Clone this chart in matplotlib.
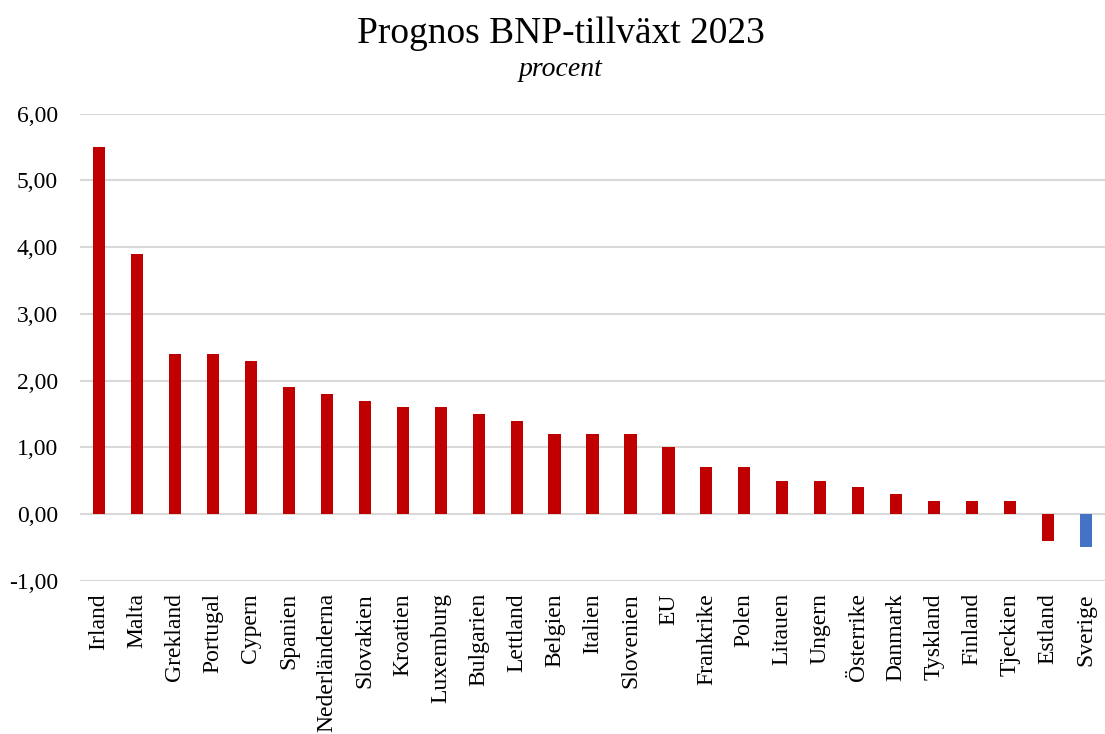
import matplotlib
matplotlib.use("Agg")
import matplotlib.pyplot as plt
import numpy as np

categories = ["Irland", "Malta", "Grekland", "Portugal", "Cypern", "Spanien",
              "Nederländerna", "Slovakien", "Kroatien", "Luxemburg", "Bulgarien",
              "Lettland", "Belgien", "Italien", "Slovenien", "EU", "Frankrike",
              "Polen", "Litauen", "Ungern", "Österrike", "Danmark", "Tyskland",
              "Finland", "Tjeckien", "Estland", "Sverige"]
values = [5.5, 3.9, 2.4, 2.4, 2.3, 1.9, 1.8, 1.7, 1.6, 1.6, 1.5, 1.4, 1.2, 1.2,
          1.2, 1.0, 0.7, 0.7, 0.5, 0.5, 0.4, 0.3, 0.2, 0.2, 0.2, -0.4, -0.5]
highlight = "Sverige"
yticks = [-1, 0, 1, 2, 3, 4, 5, 6]

plt.rcParams['font.family'] = ['Liberation Serif', 'DejaVu Serif']

fig = plt.figure(figsize=(11.05, 7.34), dpi=100)
ax = fig.add_axes([80/1105, 1 - 580.7/734, 1025/1105, (580.7 - 113.7)/734])

x = np.arange(len(categories))
colors = ["#4472C4" if c == highlight else "#C00000" for c in categories]
ax.bar(x, values, width=0.32, color=colors, zorder=3)

ax.set_xlim(-0.5, len(categories) - 0.5)
ax.set_ylim(-1, 6)
ax.set_yticks(yticks)
ax.set_yticklabels([f"{v:.2f}".replace(".", ",") for v in yticks], fontsize=17)
ax.set_xticks(x)
ax.set_xticklabels(categories, rotation=90, fontsize=17)
ax.tick_params(axis='y', length=0, pad=16)
ax.tick_params(axis='x', length=0, pad=9)
ax.grid(axis='y', color='#d9d9d9', linewidth=1.5, zorder=0)
for s in ax.spines.values():
    s.set_visible(False)

fig.text(561/1105, 1 - 43.3/734, "Prognos BNP-tillväxt 2023", ha='center', va='baseline', fontsize=27)
fig.text(561/1105, 1 - 76/734, "procent", ha='center', va='baseline', fontsize=20, style='italic')

fig.savefig("out.png", dpi=100)
